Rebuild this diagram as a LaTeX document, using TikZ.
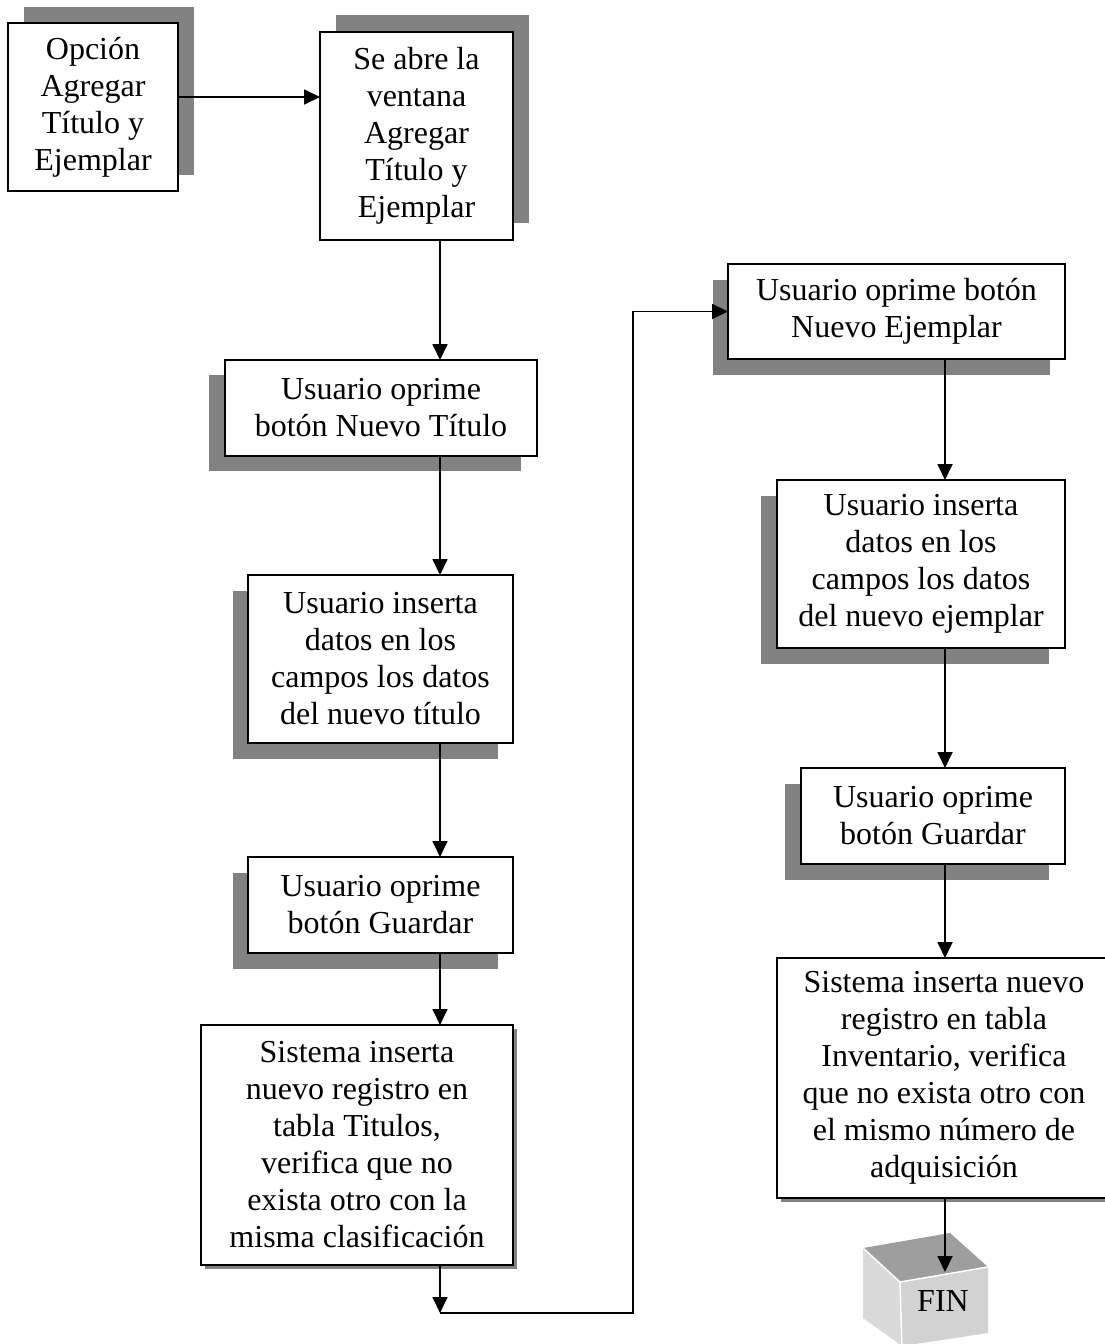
\documentclass[tikz,border=0pt]{standalone}
\usepackage{fontspec}
\setmainfont{Liberation Serif}
\usepackage{tikz}
\usetikzlibrary{arrows.meta,positioning,shadows}
\definecolor{shdc}{RGB}{130,130,130}
\definecolor{ctop}{RGB}{158,158,158}
\definecolor{cfront}{RGB}{210,210,210}
\definecolor{cleft}{RGB}{218,218,218}
\tikzset{
  fbox/.style={rectangle,draw=black,line width=2pt,fill=white,
    minimum width=#1,align=center,inner sep=0pt,outer sep=0pt,
    font=\fontsize{32}{37}\selectfont},
  fbox/.default=265pt,
  shd/.style 2 args={drop shadow={shadow xshift=#1,shadow yshift=#2,
    fill=shdc,opacity=1}},
  arr/.style={-{Triangle[length=16pt,width=15pt]},line width=1.8pt},
}
\begin{document}
\begin{tikzpicture}[x=1pt,y=1pt]
        \useasboundingbox (0,0) rectangle (1105,-1344);
        \coordinate (colL) at (440,0);
        \coordinate (colR) at (945,0);
        % left column
        \node[fbox=170pt,minimum height=168pt,shd={16pt}{16pt}] (opt) at (93,-107) {Opción\\Agregar\\Título y\\Ejemplar};
        \node[fbox=193pt,minimum height=208pt,shd={16pt}{17pt},right=142pt of opt,yshift=-29pt] (win) {Se abre la\\ventana\\Agregar\\Título y\\Ejemplar};
        \node[fbox=312pt,minimum height=96pt,shd={-16pt}{-15pt},below=120pt of win,xshift=-35.5pt] (newt) {Usuario oprime\\botón Nuevo Título};
        \node[fbox,minimum height=168pt,shd={-15pt}{-16pt},below=119pt of newt,xshift=-0.5pt] (datt) {Usuario inserta\\datos en los\\campos los datos\\del nuevo título};
        \node[fbox,minimum height=96pt,shd={-15pt}{-16pt},below=114pt of datt] (savt) {Usuario oprime\\botón Guardar};
        \node[fbox=312pt,minimum height=240pt,shd={4pt}{-4pt},below=72pt of savt,xshift=-23.5pt] (inst) {Sistema inserta\\nuevo registro en\\tabla Titulos,\\verifica que no\\exista otro con la\\misma clasificación};
        % right column
        \node[fbox=337pt,minimum height=95pt,shd={-15pt}{-16pt}] (newe) at (896.5,-311.5) {Usuario oprime botón\\Nuevo Ejemplar};
        \node[fbox=288pt,minimum height=168pt,shd={-16pt}{-16pt},below=121pt of newe,xshift=24.5pt] (date) {Usuario inserta\\datos en los\\campos los datos\\del nuevo ejemplar};
        \node[fbox=264pt,minimum height=96pt,shd={-16pt}{-16pt},below=120pt of date,xshift=12pt] (save) {Usuario oprime\\botón Guardar};
        \node[fbox=334pt,minimum height=240pt,shd={4pt}{-4pt},below=94pt of save,xshift=11pt] (inse) {Sistema inserta nuevo\\registro en tabla\\Inventario, verifica\\que no exista otro con\\el mismo número de\\adquisición};
        % end cube
        \fill[ctop] (863,-1248) -- (950,-1233) -- (988,-1267) -- (900,-1282) -- cycle;
        \fill[cleft] (863,-1248) -- (900,-1282) -- (902,-1346) -- (863,-1318) -- cycle;
        \fill[cfront] (900,-1282) -- (988,-1267) -- (988,-1333) -- (902,-1346) -- cycle;
        \draw[white,line width=1.5pt] (863,-1248) -- (900,-1282) -- (988,-1267) (900,-1282) -- (902,-1346);
        \node[font=\fontsize{32}{37}\selectfont,inner sep=0pt] (fin) at (943,-1301) {FIN};
        \coordinate (fintop) at (945,-1272);
        \coordinate (loopL) at (440,-1313);
        \coordinate (loopR) at (633,-1313);
        % connectors
        \draw[arr] ([yshift=10pt]opt.east) -- ([yshift=10pt]opt.east -| win.west);
        \draw[arr] (win.south -| colL) -- (newt.north -| colL);
        \draw[arr] (newt.south -| colL) -- (datt.north -| colL);
        \draw[arr] (datt.south -| colL) -- (savt.north -| colL);
        \draw[arr] (savt.south -| colL) -- (inst.north -| colL);
        \draw[arr] (inst.south -| colL) -- (loopL);
        \draw[arr] (loopL) -- (loopR) |- (newe.west);
        \draw[arr] (newe.south -| colR) -- (date.north -| colR);
        \draw[arr] (date.south -| colR) -- (save.north -| colR);
        \draw[arr] (save.south -| colR) -- (inse.north -| colR);
        \draw[arr] (inse.south -| colR) -- (fintop);
      \end{tikzpicture}
\end{document}
